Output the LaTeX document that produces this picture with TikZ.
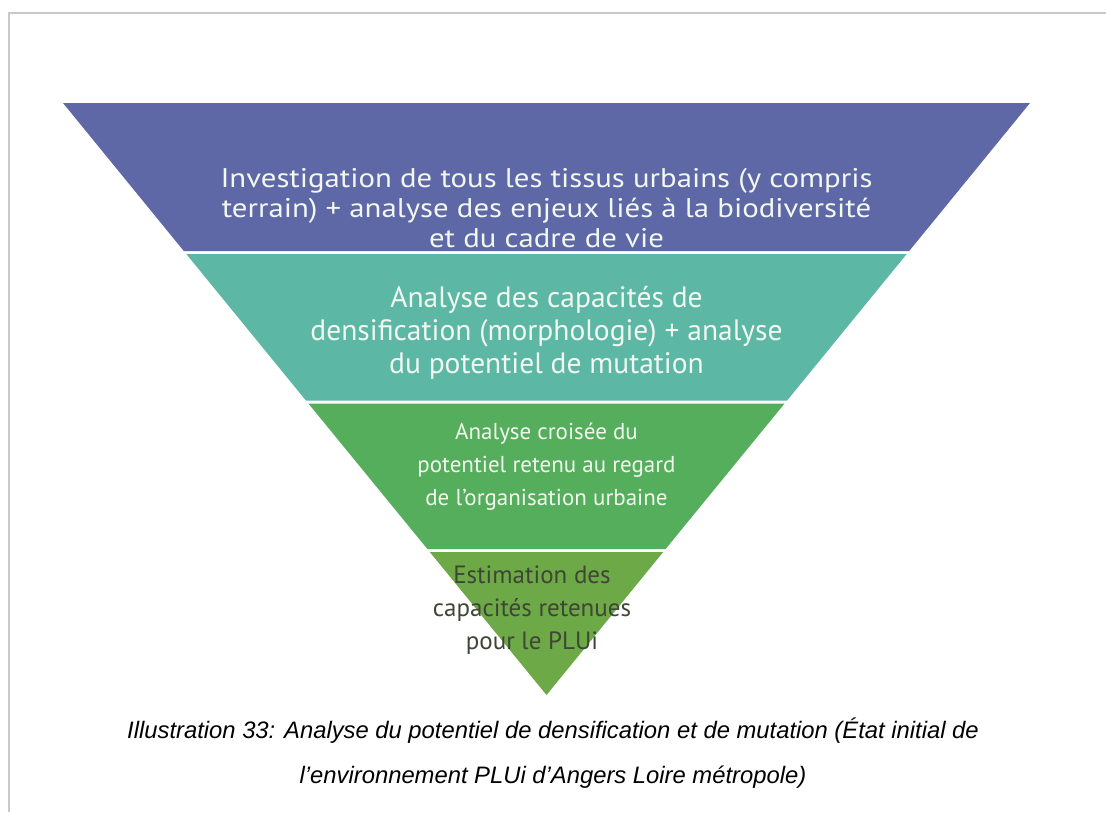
\documentclass[tikz,border=0pt]{standalone}
\usepackage{fontspec}
\setmainfont{PT Sans}
\newfontfamily\capfont{Liberation Sans}
\newfontfamily\widefont[FakeStretch=1.14]{PT Sans}
\definecolor{bandA}{HTML}{5E68A6}
\definecolor{bandB}{HTML}{5CB8A5}
\definecolor{bandC}{HTML}{55AE5B}
\definecolor{bandD}{HTML}{6DA946}
\definecolor{txtlight}{HTML}{F2F7F0}
\definecolor{txtdark}{HTML}{3E4636}
\definecolor{frame}{HTML}{C8C8C8}
\begin{document}
\begin{tikzpicture}[x=1pt,y=-1pt,
  bandtext/.style={align=center,text=txtlight,inner sep=0pt},
  captext/.style={align=center,inner sep=0pt,font={\capfont\itshape\fontsize{23.8}{45}\selectfont}}]
\useasboundingbox (0,0) rectangle (1106,812);
\fill[white] (0,0) rectangle (1106,812);
\draw[frame,line width=1.5pt] (9,812) -- (9,13) -- (1106,13);
% x_left(y) = 63 + 0.8159 (y-103), x_right(y) = 1030 - 0.8159 (y-103)
\fill[bandA] (63,103) -- (1030,103) -- (909.2,251) -- (183.8,251) -- cycle;
\fill[bandB] (186.3,254) -- (906.7,254) -- (787.1,400.5) -- (305.9,400.5) -- cycle;
\fill[bandC] (308.4,403.5) -- (784.6,403.5) -- (665.6,549) -- (427.4,549) -- cycle;
\fill[bandD] (429.8,552) -- (663.2,552) -- (546.5,695) -- cycle;
\node[bandtext,font={\widefont\fontsize{27}{30}\selectfont}] (t1) at (546.5,208)
  {Investigation de tous les tissus urbains (y compris\\terrain) + analyse des enjeux liés à la biodiversité\\et du cadre de vie};
\node[bandtext,font={\fontsize{29.5}{33}\selectfont}] (t2) at (546.5,333)
  {Analyse des capacités de\\densification (morphologie) + analyse\\du potentiel de mutation};
\node[bandtext,font={\fontsize{23}{33}\selectfont}] (t3) at (546.5,467)
  {Analyse croisée du\\potentiel retenu au regard\\de l’organisation urbaine};
\node[bandtext,text=txtdark,font={\fontsize{25}{33}\selectfont}] (t4) at (532,610)
  {Estimation des\\capacités retenues\\pour le PLUi};
\node[captext] (cap) at (553,753)
  {Illustration 33: Analyse du potentiel de densification et de mutation (État initial de\\l’environnement PLUi d’Angers Loire métropole)};
\end{tikzpicture}
\end{document}
